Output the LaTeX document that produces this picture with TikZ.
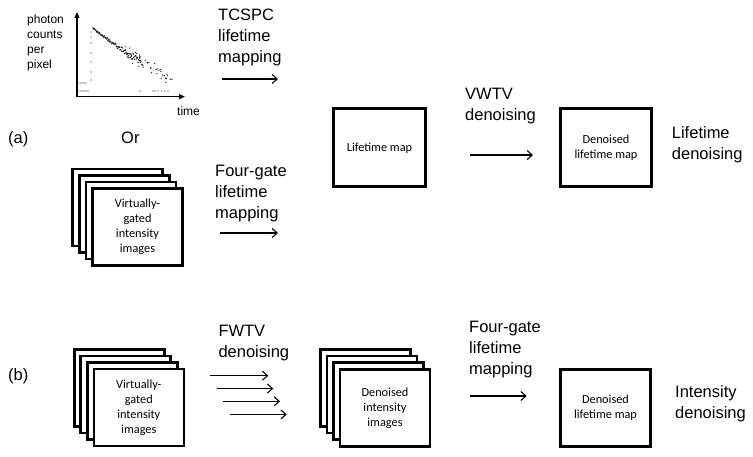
\documentclass[tikz,border=0pt]{standalone}
\usepackage{fontspec}
\setmainfont{Liberation Sans}
\newfontfamily\boxfont{Carlito}
\usetikzlibrary{arrows.meta}
\begin{document}
\begin{tikzpicture}[x=1pt,y=-1pt,
  big/.style={font=\fontsize{16.5}{21}\selectfont, align=left, inner sep=0pt, anchor=north west},
  small/.style={font=\fontsize{12}{15}\selectfont, align=left, inner sep=0pt, anchor=north west},
  card/.style={draw, line width=2.6pt, fill=white, minimum width=90pt, minimum height=77pt, inner sep=0pt, align=center, font=\boxfont\fontsize{12.3}{15}\selectfont},
  flow/.style={line width=1.1pt, -{Straight Barb[length=5pt,width=9pt,line width=1.1pt]}},
  axisline/.style={line width=1.3pt, -{Triangle[length=6pt,width=5pt]}},
  datum/.style={fill=black!90}]
\useasboundingbox (0,0) rectangle (753,457);

% ---------- decay plot ----------
\coordinate (org) at (77,96.7);
\coordinate (ytop) at (77,12);
\coordinate (xend) at (185,96.7);
\draw[axisline] (org) -- (ytop);
\draw[axisline] (org) -- (xend);
\node[small] (ylab) at (27,15) {photon\\counts\\per\\pixel};
\node[small] (xlab) at (177,107) {time};
\pgfmathsetseed{7}
\foreach \i in {0,...,80}{
  \pgfmathsetmacro{\dd}{\i*0.6}
  \pgfmathsetmacro{\py}{28+0.8*\dd-0.002*\dd*\dd+rand*(0.8+\i*0.03)}
  \fill[datum] (93+\dd,\py) circle (0.8);
}
\foreach \i in {0,...,45}{
  \pgfmathsetmacro{\dd}{32+rnd*47}
  \pgfmathsetmacro{\py}{min(92,28+0.8*\dd-0.002*\dd*\dd+rand*7)}
  \fill[datum] (93+\dd,\py) circle (0.7);
}
\foreach \yy in {32,37,43,53,62,72,80}{\fill[datum] (91,\yy) circle (0.7);}
\foreach \xx in {80,82,84,86}{\fill[datum] (\xx,83) circle (0.7);}
\foreach \xx in {80,82,84,86,88,140,153,155,158,162,165,168}{\fill[datum] (\xx,91) circle (0.7);}

% ---------- row (a) ----------
\node[big] (tcspc) at (218,9) {TCSPC\\lifetime\\mapping};
\coordinate (t1s) at (222,79); \coordinate (t1e) at (278,79);
\draw[flow] (t1s) -- (t1e);

\node[big, anchor=base west] (la) at (8,143.7) {(a)};
\node[big, anchor=base west] (or) at (121,143.7) {Or};

\node[card] (a1) at (117.5,207.7) {};
\node[card] (a2) at (124.2,214.2) {};
\node[card] (a3) at (130.8,220.7) {};
\node[card] (a4) at (137.5,227.2) {Virtually-\\gated\\intensity\\images};

\node[big] (fga) at (215,164.5) {Four-gate\\lifetime\\mapping};
\coordinate (f1s) at (220,233); \coordinate (f1e) at (278,233);
\draw[flow] (f1s) -- (f1e);

\node[card, minimum width=92pt, minimum height=78pt] (lm) at (379.5,147.8) {Lifetime map};

\node[big] (vwtv) at (465,88.3) {VWTV\\denoising};
\coordinate (v1s) at (470,155); \coordinate (v1e) at (533,155);
\draw[flow] (v1s) -- (v1e);

\node[card, minimum width=91pt, minimum height=78pt] (dla) at (606,147.8) {Denoised\\lifetime map};
\node[big] (ld) at (671.7,126) {Lifetime\\denoising};

% ---------- row (b) ----------
\node[big, anchor=base west] (lb) at (8,380.5) {(b)};

\node[card] (b1) at (119.2,387.8) {};
\node[card] (b2) at (125.7,394.4) {};
\node[card] (b3) at (132.3,401) {};
\node[card] (b4) at (138.8,407.5) {Virtually-\\gated\\intensity\\images};

\node[big] (fwtv) at (218.3,325) {FWTV\\denoising};
\coordinate (w1s) at (210,375.7);   \coordinate (w1e) at (268.3,375.7);
\coordinate (w2s) at (216.7,388.5); \coordinate (w2e) at (273.3,388.5);
\coordinate (w3s) at (223.3,401.3); \coordinate (w3e) at (280,401.3);
\coordinate (w4s) at (230,414.5);   \coordinate (w4e) at (286.7,414.5);
\draw[flow] (w1s) -- (w1e);
\draw[flow] (w2s) -- (w2e);
\draw[flow] (w3s) -- (w3e);
\draw[flow] (w4s) -- (w4e);

\node[card] (c1) at (365.2,388) {};
\node[card] (c2) at (371.8,394.6) {};
\node[card] (c3) at (378.4,401.2) {};
\node[card] (c4) at (385,407.8) {Denoised\\intensity\\images};

\node[big] (fgb) at (469,320.7) {Four-gate\\lifetime\\mapping};
\coordinate (f2s) at (470,396); \coordinate (f2e) at (526.7,396);
\draw[flow] (f2s) -- (f2e);

\node[card] (dlb) at (605.5,408) {Denoised\\lifetime map};
\node[big] (idn) at (675,385) {Intensity\\denoising};
\end{tikzpicture}
\end{document}
